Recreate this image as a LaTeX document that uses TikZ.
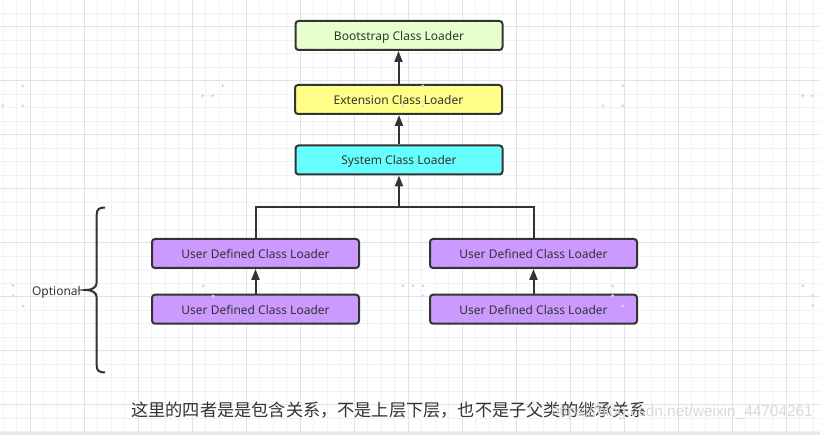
\documentclass[tikz,border=0pt]{standalone}
\usepackage{fontspec}
\setmainfont{Noto Sans}
\newfontfamily\cjk{Noto Sans CJK SC}
\newfontfamily\wmfont{Liberation Sans}
\usetikzlibrary{arrows.meta}
\definecolor{txt}{HTML}{333333}
\definecolor{edge}{HTML}{333333}
\definecolor{bootc}{HTML}{E6FFCC}
\definecolor{extc}{HTML}{FFFF88}
\definecolor{sysc}{HTML}{66FFFF}
\definecolor{userc}{HTML}{CC99FF}
\definecolor{gridminor}{HTML}{F2F2F2}
\definecolor{gridmajor}{HTML}{E2E2E2}
\definecolor{dotc}{HTML}{DCCFFF}
\tikzset{
  loader/.style={draw=edge, line width=2pt, rounded corners=3pt, minimum width=207pt, minimum height=29pt, inner sep=0pt, text height=10pt, text depth=0pt, font=\fontsize{12}{14}\selectfont, text=txt},
  arr/.style={draw=edge, line width=2pt, -{Triangle[length=11pt,width=8pt]}},
  link/.style={draw=edge, line width=2pt},
  minorline/.style={draw=gridminor, line width=1pt},
  majorline/.style={draw=gridmajor, line width=1pt},
  markdot/.style={fill=dotc, draw=none},
}
\begin{document}
\begin{tikzpicture}[x=1pt,y=-1pt]
\useasboundingbox (0,0) rectangle (820,435);
\fill[white] (0,0) rectangle (820,435);
% grid
\foreach \i in {-2,...,58} {\draw[minorline] ({30+13.5*\i},0) -- ({30+13.5*\i},435);}
\foreach \i in {-2,...,30} {\draw[minorline] (0,{27+13.5*\i}) -- (820,{27+13.5*\i});}
\foreach \i in {0,...,14} {\draw[majorline] ({30+54*\i},0) -- ({30+54*\i},435);}
\foreach \i in {0,...,7} {\draw[majorline] (0,{27+54*\i}) -- (820,{27+54*\i});}
\fill[gridmajor!80] (0,432) rectangle (820,435);

% nodes
\node[loader, fill=bootc] (boot) at (399,35.5) {Bootstrap Class Loader};
\node[loader, fill=extc] (ext) at (398.5,99.5) {Extension Class Loader};
\node[loader, fill=sysc] (sys) at (399,160) {System Class Loader};
\node[loader, fill=userc] (u1) at (255.5,253.5) {User Defined Class Loader};
\node[loader, fill=userc] (u2) at (255.5,309.2) {User Defined Class Loader};
\node[loader, fill=userc] (u3) at (533.5,253.5) {User Defined Class Loader};
\node[loader, fill=userc] (u4) at (533.5,309.2) {User Defined Class Loader};
\coordinate (j) at (399,206.7);

% connectors
\draw[arr] (ext.north) -- (ext.north |- boot.south);
\draw[arr] (sys.north) -- (sys.north |- ext.south);
\draw[arr] (u1.north) |- (j) -- (sys.south);
\draw[link] (u3.north) |- (j);
\draw[arr] (u2.north) -- (u1.south);
\draw[arr] (u4.north) -- (u3.south);

% brace
\coordinate (btop) at (105,207.5);
\coordinate (btip) at (85.5,290);
\coordinate (bbot) at (105,372.5);
\draw[link] (btop) .. controls (99,207.5) and (96.7,209.5) .. (96.7,214.5)
  -- (96.7,282.5) .. controls (96.7,287.5) and (92,290) .. (btip)
  .. controls (92,290) and (96.7,292.5) .. (96.7,297.5)
  -- (96.7,365.5) .. controls (96.7,370.5) and (99,372.5) .. (bbot);
\node[anchor=east, inner sep=0pt, text height=10pt, text depth=0pt, font=\fontsize{12}{14}\selectfont, text=txt] (opt) at (81,290.7) {Optional};

% caption and watermark
\node[anchor=west, inner sep=0pt, font=\cjk\fontsize{17.2}{20}\selectfont, text=txt] (cap) at (131,410) {这里的四者是是包含关系，不是上层下层，也不是子父类的继承关系};
\node[anchor=east, inner sep=0pt, font=\wmfont\fontsize{15.4}{18}\selectfont, text=gray!30] (wm) at (813,413) {https://blog.csdn.net/weixin\_44704261};

% connection-point dots
\foreach \p in {(22.7,85.7),(2.7,105.7),(22.7,105.7),(202.7,95.7),(212.7,95.7),(222.7,85.7),(602.7,105.7),(622.7,85.7),(622.7,105.7),(802.7,95.7),(812.7,95.7),(13,285.5),(13,296),(23,306),(203,286),(213,296),(422.7,86),(402.7,106),(422.7,106),(402.7,285.7),(413,285.7),(423,285.7),(423,295.7),(612.7,285.7),(612.7,295.7),(622.7,305.7),(802.7,285.7),(812.7,295.7),(812.7,305.7)}
  {\fill[markdot] \p circle (1.6);}
\end{tikzpicture}
\end{document}
